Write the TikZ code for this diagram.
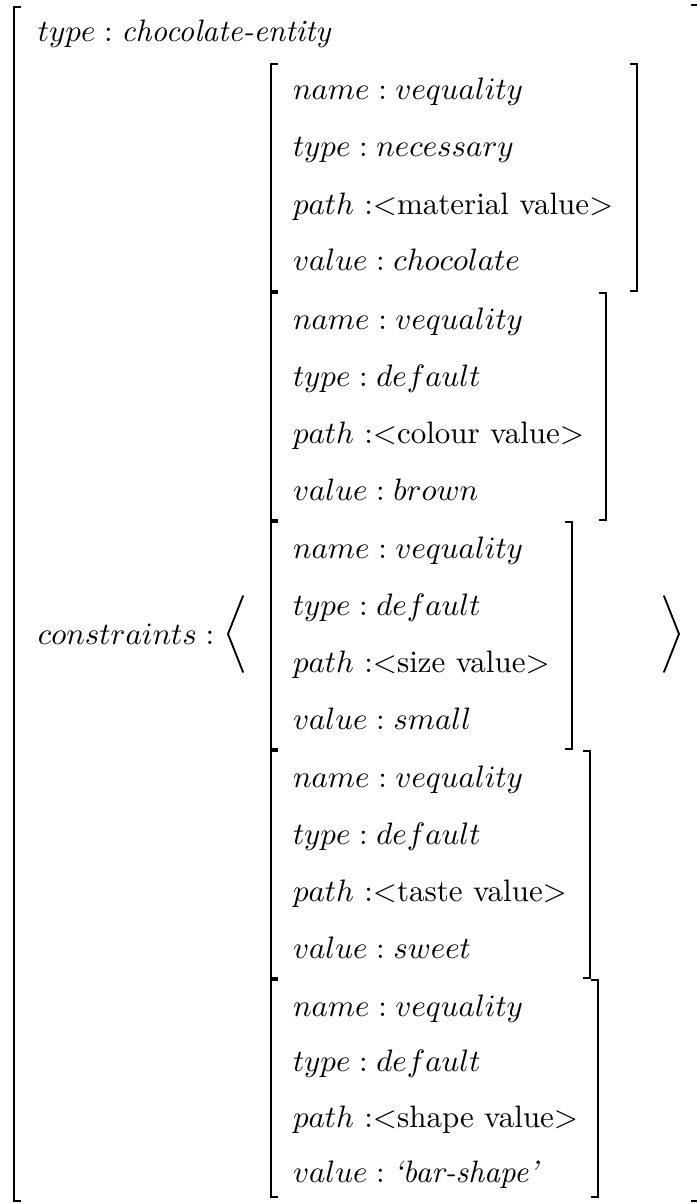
\documentclass[tikz,border=0pt]{standalone}
\begin{document}
\begin{tikzpicture}[x=0.3226pt,y=-0.3226pt]
\tikzset{
  brk/.style={line width=0.7pt, line cap=butt, line join=miter},
  ang/.style={line width=0.6pt, line cap=round, line join=miter},
  row/.style={anchor=base west, inner sep=0pt, outer sep=0pt}
}
\useasboundingbox (0,0) rectangle (697,1204);
% outer brackets
\draw[brk] (21,7) -- (14,7) -- (14,1201) -- (21,1201);
\draw[brk] (691,5) -- (699,5) -- (699,1201) -- (691,1201);
% top line
\node[row] (toptype) at (38,42) {$type : \textit{chocolate-entity}$};
% constraints label and angle brackets
\node[row] (cons) at (38,644) {$constraints :$};
\draw[ang] (243,596) -- (228,634) -- (243,672);
\draw[ang] (664,596) -- (679,634) -- (664,672);
% box 1
\draw[brk] (278,64) -- (271,64) -- (271,291) -- (278,291);
\draw[brk] (630,64) -- (637,64) -- (637,291) -- (630,291);
\node[row] (a1) at (293,100) {$name : vequality$};
\node[row] (a2) at (293,157) {$type : necessary$};
\node[row] (a3) at (293,214) {$path$ :$<$material value$>$};
\node[row] (a4) at (293,271) {$value : chocolate$};
% box 2
\draw[brk] (278,293) -- (271,293) -- (271,520) -- (278,520);
\draw[brk] (599,293) -- (606,293) -- (606,520) -- (599,520);
\node[row] (b1) at (293,329) {$name : vequality$};
\node[row] (b2) at (293,386) {$type : default$};
\node[row] (b3) at (293,443) {$path$ :$<$colour value$>$};
\node[row] (b4) at (293,500) {$value : brown$};
% box 3
\draw[brk] (278,522) -- (271,522) -- (271,749) -- (278,749);
\draw[brk] (565,522) -- (572,522) -- (572,749) -- (565,749);
\node[row] (c1) at (293,558) {$name : vequality$};
\node[row] (c2) at (293,615) {$type : default$};
\node[row] (c3) at (293,672) {$path$ :$<$size value$>$};
\node[row] (c4) at (293,729) {$value : small$};
% box 4
\draw[brk] (278,751) -- (271,751) -- (271,978) -- (278,978);
\draw[brk] (583,751) -- (590,751) -- (590,978) -- (583,978);
\node[row] (d1) at (293,787) {$name : vequality$};
\node[row] (d2) at (293,844) {$type : default$};
\node[row] (d3) at (293,901) {$path$ :$<$taste value$>$};
\node[row] (d4) at (293,958) {$value : sweet$};
% box 5
\draw[brk] (278,980) -- (271,980) -- (271,1197) -- (278,1197);
\draw[brk] (591,980) -- (598,980) -- (598,1197) -- (591,1197);
\node[row] (e1) at (293,1016) {$name : vequality$};
\node[row] (e2) at (293,1071) {$type : default$};
\node[row] (e3) at (293,1127) {$path$ :$<$shape value$>$};
\node[row] (e4) at (293,1182) {$value : \textit{`bar-shape'}$};
\end{tikzpicture}
\end{document}
